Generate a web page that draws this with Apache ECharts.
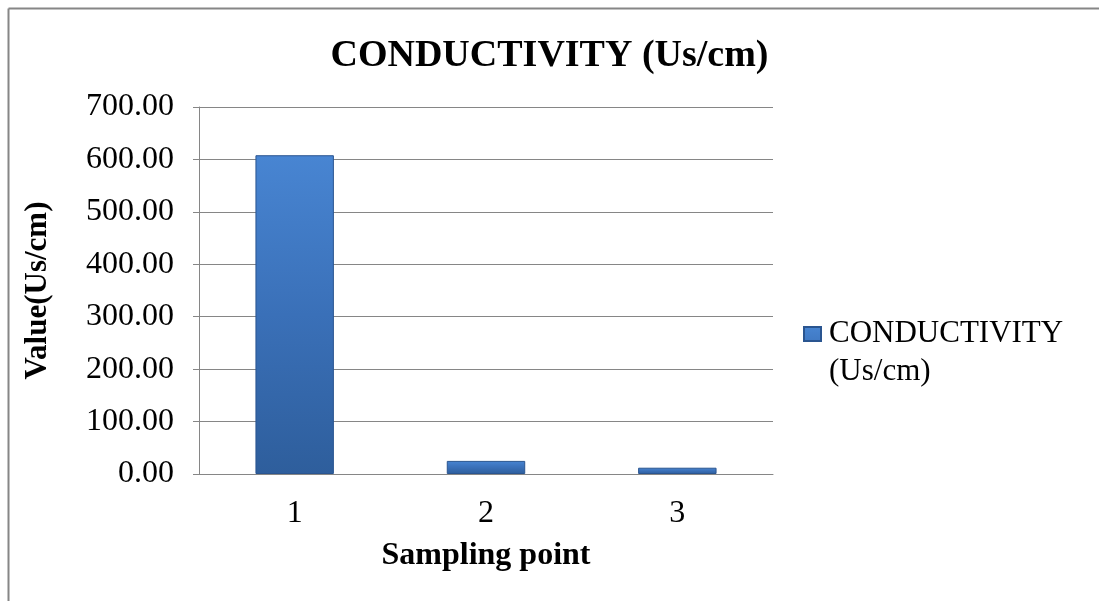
<!DOCTYPE html>
<html>
<head>
<meta charset="utf-8">
<script src="https://cdn.jsdelivr.net/npm/echarts@6/dist/echarts.min.js"></script>
<style>html,body{margin:0;padding:0;background:#fff;}#c{width:1099px;height:601px;}</style>
</head>
<body>
<div id="c"></div>
<script>
const categories = ['1', '2', '3'];
const conductivity = [608, 25, 12];
const seriesName = 'CONDUCTIVITY (Us/cm)';
const titleText = 'CONDUCTIVITY (Us/cm)';
const xName = 'Sampling point';
const yName = 'Value(Us/cm)';

const FONT = "'Liberation Serif','Times New Roman',serif";
const chart = echarts.init(document.getElementById('c'));
const barColor = new echarts.graphic.LinearGradient(0, 0, 0, 1, [
  {offset: 0, color: '#4885d2'},
  {offset: 0.5, color: '#3a70b8'},
  {offset: 1, color: '#2e5e9c'}
]);
chart.setOption({
  animation: false,
  backgroundColor: '#fff',
  title: {
    text: titleText, left: 'center', top: 32,
    textStyle: {fontFamily: FONT, fontWeight: 'bold', fontSize: 38, color: '#000'}
  },
  graphic: [
    {type: 'line', shape: {x1: 8.5, y1: 8.5, x2: 1099, y2: 8.5}, style: {stroke: '#868686', lineWidth: 2}},
    {type: 'line', shape: {x1: 8.5, y1: 8.5, x2: 8.5, y2: 601}, style: {stroke: '#868686', lineWidth: 2}}
  ],
  legend: {
    left: 798, top: 310, orient: 'vertical',
    icon: 'path://M0,0L17,0L17,14L0,14Z M20,52',
    itemWidth: 20, itemHeight: 52, itemGap: 4,
    formatter: function () { return 'CONDUCTIVITY\n(Us/cm)'; },
    textStyle: {fontFamily: FONT, fontSize: 31, color: '#000', lineHeight: 38}
  },
  grid: {left: 199, right: 326, top: 107, bottom: 127, containLabel: false},
  xAxis: {
    type: 'category', data: categories,
    name: xName, nameLocation: 'middle', nameGap: 66,
    nameTextStyle: {fontFamily: FONT, fontWeight: 'bold', fontSize: 32, color: '#000'},
    axisLine: {lineStyle: {color: '#868686', width: 1}},
    axisTick: {show: false},
    axisLabel: {fontFamily: FONT, fontSize: 32, color: '#000', margin: 24}
  },
  yAxis: {
    type: 'value', min: 0, max: 700, interval: 100,
    name: yName, nameLocation: 'middle', nameGap: 146,
    nameTextStyle: {fontFamily: FONT, fontWeight: 'bold', fontSize: 31, color: '#000'},
    axisLine: {show: true, lineStyle: {color: '#868686', width: 1}},
    axisTick: {show: true, length: 6, lineStyle: {color: '#868686'}},
    axisLabel: {fontFamily: FONT, fontSize: 32, color: '#000', margin: 25,
      formatter: v => v.toFixed(2)},
    splitLine: {lineStyle: {color: '#868686', width: 1}}
  },
  series: [{
    name: seriesName, type: 'bar', data: conductivity, barWidth: '41%',
    itemStyle: {color: barColor, borderColor: '#2a5590', borderWidth: 1},
  }]
});
</script>
</body>
</html>
